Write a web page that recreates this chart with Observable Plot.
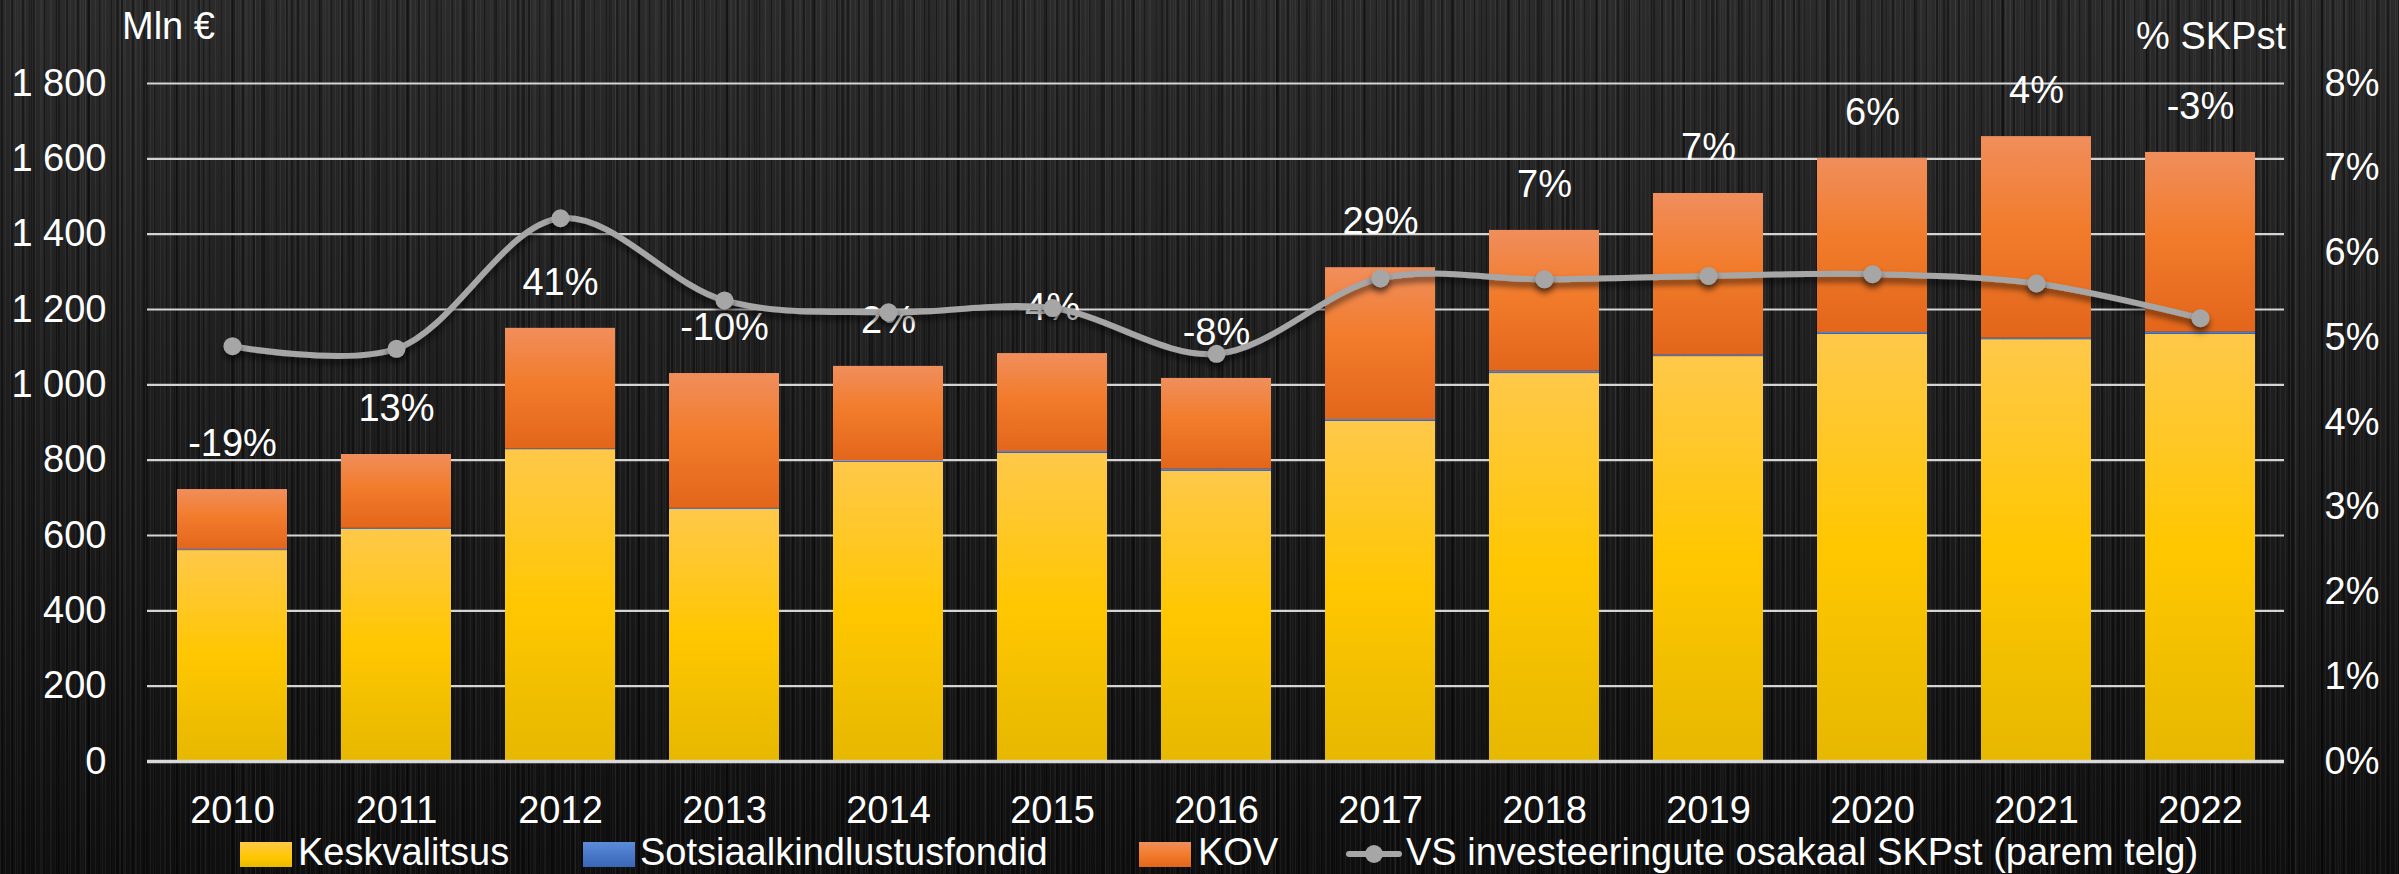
<!DOCTYPE html>
<html><head><meta charset="utf-8">
<script src="https://cdn.jsdelivr.net/npm/d3@7"></script>
<script src="https://cdn.jsdelivr.net/npm/@observablehq/plot@0.6"></script>
<style>
html,body{margin:0;padding:0;}
body{width:2399px;height:874px;overflow:hidden;font-family:"Liberation Sans",Arial,sans-serif;color:#fff;
background:
 repeating-linear-gradient(90deg, rgba(255,255,255,0.05) 0 1px, transparent 1px 5px),
 repeating-linear-gradient(90deg, rgba(0,0,0,0.35) 0 2px, transparent 2px 11px),
 repeating-linear-gradient(90deg, rgba(255,255,255,0.04) 0 1px, transparent 1px 17px),
 repeating-linear-gradient(90deg, rgba(0,0,0,0.3) 0 3px, transparent 3px 29px),
 repeating-linear-gradient(90deg, rgba(255,255,255,0.03) 0 2px, transparent 2px 41px),
 linear-gradient(180deg, #2b2b2b 0%, #1e1e1e 45%, #0f0f0f 100%);}
#wrap{position:relative;width:2399px;height:874px;}
#chart{position:absolute;left:0;top:0;}
.t{position:absolute;font-size:38px;line-height:38px;white-space:nowrap;color:#fff;}
.sw{position:absolute;top:842px;width:52px;height:25px;}
</style>
</head><body>
<div id="wrap">
  <div id="chart"></div>
  <div class="t" id="ttl" style="left:122px;top:7px;"></div>
  <div class="t" id="ttr" style="right:113px;top:17px;"></div>
  <div id="legend"></div>
</div>
<script>
const years = ["2010","2011","2012","2013","2014","2015","2016","2017","2018","2019","2020","2021","2022"];
const keskvalitsus = [560, 616, 828, 669, 794, 818, 770, 903, 1030, 1075, 1134, 1120, 1134];
const sotsiaal = [3, 3, 2, 3, 4, 5, 6, 5, 6, 4, 5, 4, 6];
const kov = [159, 196, 320, 358, 251, 260, 241, 403, 374, 429, 462, 535, 477];
const shareGDP = [4.90, 4.87, 6.41, 5.44, 5.30, 5.35, 4.81, 5.70, 5.69, 5.73, 5.75, 5.64, 5.23];
const growthLabels = ["-19%","13%","41%","-10%","2%","4%","-8%","29%","7%","7%","6%","4%","-3%"];
const seriesNames = ["Keskvalitsus","Sotsiaalkindlustusfondid","KOV","VS investeeringute osakaal SKPst (parem telg)"];
const leftTicks = [0,200,400,600,800,1000,1200,1400,1600,1800];
const rightTicks = [0,1,2,3,4,5,6,7,8];
const leftTitle = "Mln €";
const rightTitle = "% SKPst";

const ratio = 1800 / 8; // right axis 8% ↔ 1800
const fmt = d3.formatLocale({decimal: ",", thousands: "\u00a0", grouping: [3], currency: ["", ""]}).format(",d");

const bars = [];
years.forEach((y, i) => {
  bars.push({year: y, series: seriesNames[0], value: keskvalitsus[i]});
  bars.push({year: y, series: seriesNames[1], value: sotsiaal[i]});
  bars.push({year: y, series: seriesNames[2], value: kov[i]});
});
const totals = years.map((y, i) => ({year: y, total: keskvalitsus[i] + sotsiaal[i] + kov[i], label: growthLabels[i]}));
const line = years.map((y, i) => ({year: y, pct: shareGDP[i]}));

const fills = ["url(#gY)", "url(#gB)", "url(#gO)"];

const plot = Plot.plot({
  width: 2399, height: 838,
  marginLeft: 147, marginRight: 115, marginTop: 83, marginBottom: 77,
  style: {background: "transparent", color: "#fff", fontSize: "38px", fontFamily: "'Liberation Sans', Arial, sans-serif"},
  x: {domain: years, paddingInner: 0.33, paddingOuter: 0.165, label: null},
  y: {domain: [0, 1800], label: null},
  color: {domain: seriesNames.slice(0, 3), range: fills},
  marks: [
    Plot.ruleY(leftTicks.filter(d => d > 0), {stroke: "#d4d4d4", strokeWidth: 2.2}),
    Plot.barY(bars, {x: "year", y: "value", fill: "series", order: seriesNames.slice(0, 3)}),
    Plot.ruleY([0], {stroke: "#d9d9d9", strokeWidth: 3.5}),
    Plot.axisY({anchor: "left", ticks: leftTicks, tickFormat: fmt, tickSize: 0, tickPadding: 41, label: null}),
    Plot.axisY({anchor: "right", ticks: rightTicks.map(p => p * ratio), tickFormat: d => Math.round(d / ratio) + "%", tickSize: 0, tickPadding: 40, label: null}),
    Plot.axisX({tickSize: 0, tickPadding: 35, label: null}),
    Plot.text(totals, {x: "year", y: "total", text: "label", dy: -46, fill: "#fff", fontSize: 38}),
    Plot.line(line, {x: "year", y: d => d.pct * ratio, curve: "catmull-rom", stroke: "#a6a6a6", strokeWidth: 6}),
    Plot.dot(line, {x: "year", y: d => d.pct * ratio, r: 9, fill: "#a6a6a6", stroke: "none"})
  ]
});

const svg = d3.select(plot);
const defs = svg.insert("defs", ":first-child");
function grad(id, stops) {
  const g = defs.append("linearGradient").attr("id", id).attr("x1", 0).attr("y1", 0).attr("x2", 0).attr("y2", 1);
  stops.forEach(([o, c]) => g.append("stop").attr("offset", o).attr("stop-color", c));
}
grad("gY", [[0, "#FFC84A"], [0.5, "#FFC700"], [1, "#E6B800"]]);
grad("gB", [[0, "#5B8BD9"], [1, "#3A66B8"]]);
grad("gO", [[0, "#F08E5C"], [0.45, "#F27C2C"], [1, "#E3661A"]]);
const f = defs.append("filter").attr("id", "sh").attr("x", "-20%").attr("y", "-20%").attr("width", "140%").attr("height", "160%");
f.append("feDropShadow").attr("dx", 0).attr("dy", 5).attr("stdDeviation", 3).attr("flood-color", "#000").attr("flood-opacity", 0.55);
svg.selectAll('g[aria-label="line"], g[aria-label="dot"]').attr("filter", "url(#sh)");

document.getElementById("chart").appendChild(plot);
document.getElementById("ttl").textContent = leftTitle;
document.getElementById("ttr").textContent = rightTitle;

// legend (HTML, below/over the svg)
const legend = document.getElementById("legend");
const legItems = [
  {sw: 240, tx: 298, bg: "linear-gradient(180deg,#FFC84A,#FFC700 60%,#E9BA00)"},
  {sw: 583, tx: 640, bg: "linear-gradient(180deg,#5B8BD9,#3A66B8)"},
  {sw: 1139, tx: 1198, bg: "linear-gradient(180deg,#F08E5C,#F27C2C 50%,#E3661A)"},
  {sw: 1346, tx: 1406, line: true}
];
legItems.forEach((it, i) => {
  if (it.line) {
    const l = document.createElement("div");
    l.style.cssText = `position:absolute;left:${it.sw}px;top:851px;width:56px;height:6px;background:#a6a6a6;border-radius:3px;`;
    legend.appendChild(l);
    const c = document.createElement("div");
    c.style.cssText = `position:absolute;left:${it.sw + 19}px;top:845px;width:18px;height:18px;background:#a6a6a6;border-radius:50%;`;
    legend.appendChild(c);
  } else {
    const s = document.createElement("div");
    s.className = "sw";
    s.style.left = it.sw + "px";
    s.style.background = it.bg;
    legend.appendChild(s);
  }
  const t = document.createElement("div");
  t.className = "t";
  t.style.left = it.tx + "px";
  t.style.top = "833px";
  t.textContent = seriesNames[i];
  legend.appendChild(t);
});
</script>
</body></html>
